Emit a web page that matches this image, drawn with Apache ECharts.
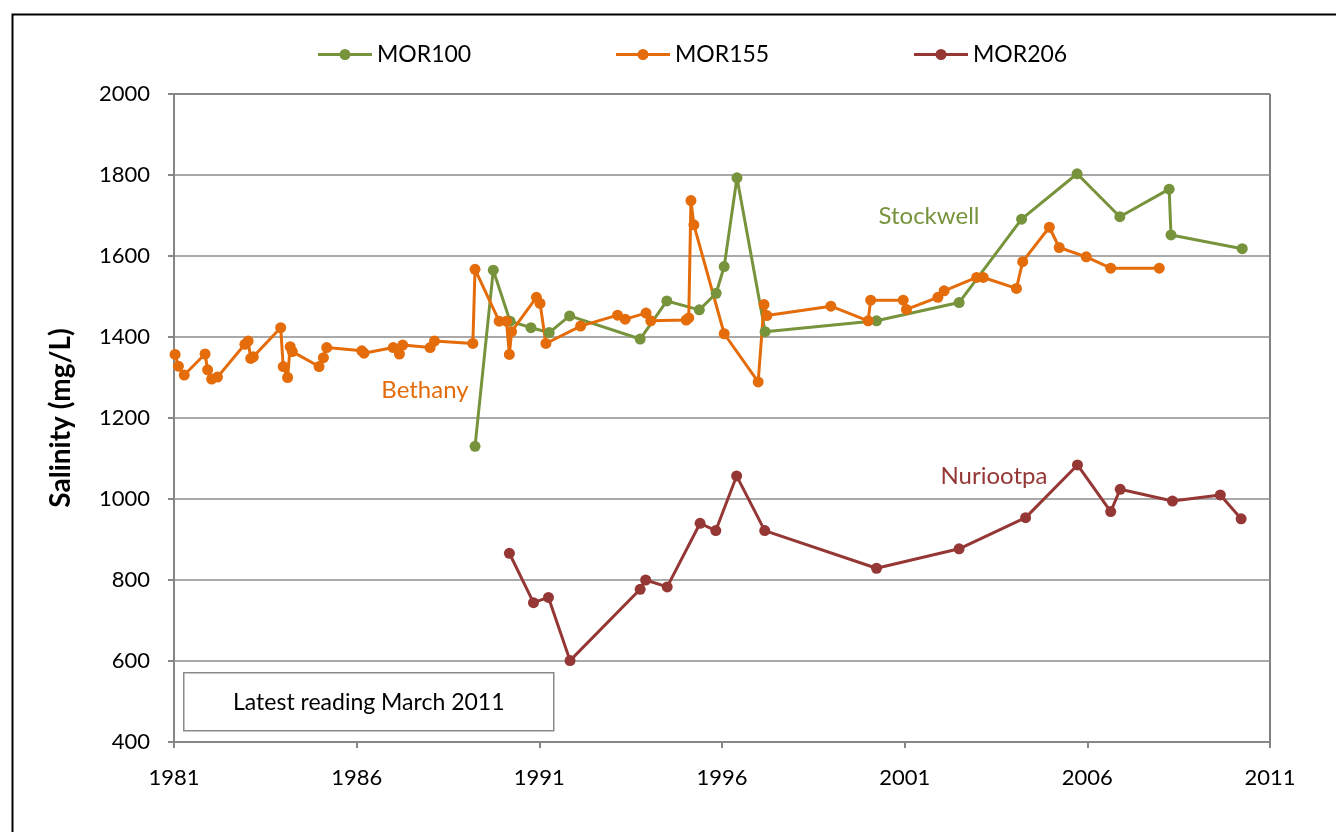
<!DOCTYPE html>
<html>
<head>
<meta charset="utf-8">
<title>Salinity</title>
<script src="https://cdn.jsdelivr.net/npm/echarts@6/dist/echarts.min.js"></script>
<style>
  html, body { margin: 0; padding: 0; background: #fff; }
  #main { width: 1336px; height: 832px; }
</style>
</head>
<body>
<div id="main"></div>
<script>
// readings (decimal year, mg/L)
const mor100Years = [1989.24, 1989.74, 1990.2, 1990.77, 1991.27, 1991.83, 1993.76, 1994.49, 1995.38,
  1995.84, 1996.06, 1996.41, 1997.18, 2000.23, 2002.49, 2004.2, 2005.72, 2006.89, 2008.24, 2008.29, 2010.24];
const mor100Values = [1130, 1565, 1439, 1423, 1411, 1452, 1395, 1489, 1467,
  1508, 1574, 1793, 1413, 1440, 1485, 1691, 1803, 1697, 1765, 1652, 1618];

const mor155Years = [1981.03, 1981.12, 1981.28, 1981.85, 1981.92, 1982.03, 1982.19, 1982.94, 1983.03,
  1983.1, 1983.17, 1983.92, 1983.99, 1984.11, 1984.18, 1984.24, 1984.97, 1985.09, 1985.18,
  1986.14, 1986.2, 1987.0, 1987.17, 1987.26, 1988.01, 1988.13, 1989.18, 1989.24, 1989.9,
  1990.1, 1990.18, 1990.24, 1990.92, 1991.02, 1991.18, 1992.13, 1993.14, 1993.35, 1993.92,
  1994.05, 1995.02, 1995.09, 1995.15, 1995.23, 1996.06, 1996.99, 1997.15, 1997.23, 1998.98,
  2000.0, 2000.07, 2000.96, 2001.05, 2001.91, 2002.08, 2002.97, 2003.15, 2004.06, 2004.23,
  2004.96, 2005.23, 2005.97, 2006.64, 2007.97];
const mor155Values = [1357, 1328, 1306, 1358, 1319, 1296, 1301, 1382, 1390,
  1347, 1351, 1423, 1327, 1300, 1376, 1364, 1327, 1349, 1374,
  1366, 1360, 1374, 1358, 1380, 1374, 1390, 1384, 1567, 1439,
  1439, 1357, 1413, 1498, 1483, 1384, 1427, 1454, 1444, 1459,
  1440, 1442, 1447, 1737, 1677, 1408, 1289, 1480, 1453, 1476,
  1440, 1491, 1491, 1468, 1498, 1514, 1547, 1547, 1520, 1586,
  1671, 1621, 1598, 1570, 1570];

const mor206Years = [1990.18, 1990.84, 1991.25, 1991.84, 1993.76, 1993.91, 1994.5, 1995.4, 1995.83,
  1996.4, 1997.17, 2000.23, 2002.49, 2004.31, 2005.73, 2006.64, 2006.9, 2008.33, 2009.64, 2010.21];
const mor206Values = [866, 744, 757, 601, 777, 800, 783, 940, 922,
  1057, 922, 829, 877, 954, 1084, 969, 1024, 995, 1010, 951];

const seriesNames = ["MOR100", "MOR155", "MOR206"];
const siteNames = ["Stockwell", "Bethany", "Nuriootpa"];
const seriesColors = ["#77933C", "#E46C0A", "#953735"];

function pairs(xs, ys) {
  return xs.map((x, i) => [x, ys[i]]);
}

function initSalinityChart(chartDom, echarts) {
  var myChart = echarts.init(chartDom);
  var option;
  var font = "Lato, 'Open Sans', sans-serif";

  var series = [
    pairs(mor100Years, mor100Values),
    pairs(mor155Years, mor155Values),
    pairs(mor206Years, mor206Values),
  ].map((data, i) => ({
    name: seriesNames[i],
    type: "line",
    data: data,
    symbol: "circle",
    symbolSize: 11,
    color: seriesColors[i],
    lineStyle: { width: 3, color: seriesColors[i] },
    itemStyle: { color: seriesColors[i] },
    animation: false,
  }));

  // line with a dot in the middle, thicker than the default legend line
  var legendIcon = "path://M0,4H22V7H0Z M32,4H54V7H32Z " +
    "M21.5,5.5A5.5,5.5 0 1 1 32.5,5.5A5.5,5.5 0 1 1 21.5,5.5Z";

  // one legend per series so each entry sits where it does in the original
  var legendLeft = [318, 616, 914];
  var legends = seriesNames.map((name, i) => ({
    top: 43,
    left: legendLeft[i],
    padding: 0,
    itemWidth: 54,
    itemHeight: 11,
    icon: legendIcon,
    textStyle: { fontSize: 23, color: "#000", fontFamily: font },
    data: [name],
  }));

  option = {
    backgroundColor: "#fff",
    textStyle: { fontFamily: font },
    legend: legends,
    grid: {
      left: 174,
      right: 66,
      top: 94,
      bottom: 90,
      show: true,
      borderColor: "#000",
      borderWidth: 1,
    },
    xAxis: {
      type: "value",
      min: 1981,
      max: 2011,
      interval: 5,
      axisLine: { show: true, onZero: false, lineStyle: { color: "#868686", width: 2 } },
      axisTick: { show: true, length: 6, lineStyle: { color: "#868686", width: 2 } },
      splitLine: { show: false },
      axisLabel: {
        color: "#000",
        fontSize: 22,
        margin: 25,
        formatter: (v) => String(Math.round(v)),
      },
    },
    yAxis: {
      type: "value",
      min: 400,
      max: 2000,
      interval: 200,
      name: "Salinity (mg/L)",
      nameLocation: "middle",
      nameGap: 99,
      nameTextStyle: { fontSize: 28, fontWeight: "bold", color: "#000", fontFamily: font },
      axisLine: { show: true, lineStyle: { color: "#868686", width: 2 } },
      axisTick: { show: true, length: 6, lineStyle: { color: "#868686", width: 2 } },
      splitLine: { show: true, lineStyle: { color: "#8c8c8c", width: 1.5 } },
      axisLabel: { color: "#000", fontSize: 22, margin: 24, formatter: (v) => String(v) },
    },
    graphic: [
      {
        type: "rect",
        left: 10,
        top: 12,
        shape: { width: 1400, height: 900 },
        style: { fill: "none", stroke: "#000", lineWidth: 2 },
        silent: true,
        z: -10,
      },
      {
        type: "group",
        left: 183,
        top: 672,
        children: [
          {
            type: "rect",
            shape: { width: 370, height: 58 },
            style: { fill: "#fff", stroke: "#8a8a8a", lineWidth: 1.5 },
          },
          {
            type: "text",
            x: 185,
            y: 30,
            style: {
              text: "Latest reading March 2011",
              font: "23px " + font,
              fill: "#000",
              align: "center",
              verticalAlign: "middle",
            },
          },
        ],
      },
      {
        type: "text",
        x: 929,
        y: 216,
        style: { text: siteNames[0], font: "24px " + font, fill: seriesColors[0], align: "center", verticalAlign: "middle" },
      },
      {
        type: "text",
        x: 425,
        y: 390,
        style: { text: siteNames[1], font: "24px " + font, fill: seriesColors[1], align: "center", verticalAlign: "middle" },
      },
      {
        type: "text",
        x: 994,
        y: 476,
        style: { text: siteNames[2], font: "24px " + font, fill: seriesColors[2], align: "center", verticalAlign: "middle" },
      },
    ],
    series: series,
  };

  myChart.setOption(option);
}

initSalinityChart(document.getElementById("main"), echarts);
</script>
</body>
</html>
